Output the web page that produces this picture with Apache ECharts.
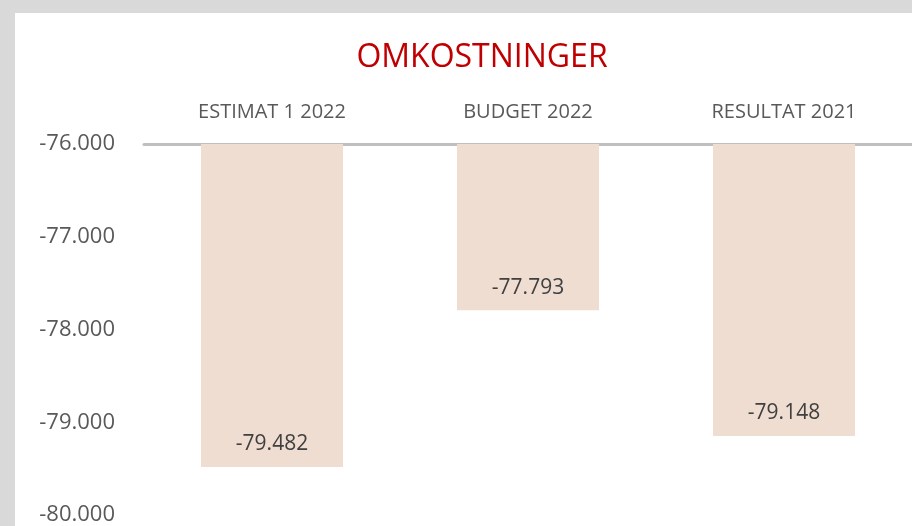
<!DOCTYPE html>
<html>
<head>
<meta charset="utf-8">
<script src="https://cdn.jsdelivr.net/npm/echarts@6/dist/echarts.min.js"></script>
<style>
  html, body { margin: 0; padding: 0; background: #d9d9d9; width: 912px; height: 526px; overflow: hidden; }
  #chart { position: absolute; left: 15px; top: 13px; width: 897px; height: 513px; background: #fff; }
</style>
</head>
<body>
<div id="chart"></div>
<script>
  const categories = ['ESTIMAT 1 2022', 'BUDGET 2022', 'RESULTAT 2021']
  const values = [-79482, -77793, -79148]
  const axisMin = -80000
  const axisMax = -76000
  const axisStep = 1000

  // dansk tusindtalsformat: -79.482
  function fmt(v) {
    const s = Math.abs(Math.round(v)).toString().replace(/\B(?=(\d{3})+(?!\d))/g, '.')
    return (v < 0 ? '-' : '') + s
  }

  const chart = echarts.init(document.getElementById('chart'))
  chart.setOption({
    animation: false,
    textStyle: { fontFamily: 'Open Sans' },
    title: {
      text: 'OMKOSTNINGER',
      left: 462,
      textAlign: 'center',
      top: 24,
      textStyle: { fontSize: 32, fontWeight: 'normal', color: '#c00000', fontFamily: 'Open Sans' },
    },
    grid: { left: 129, right: 0, top: 131, bottom: 10 },
    xAxis: {
      type: 'category',
      position: 'top',
      data: categories,
      axisLine: { onZero: false, lineStyle: { color: '#bfbfbf', width: 3 } },
      axisTick: { show: false },
      axisLabel: { color: '#595959', fontSize: 20, margin: 22 },
    },
    yAxis: {
      type: 'value',
      min: axisMin,
      max: axisMax,
      interval: axisStep,
      splitLine: { show: false },
      axisLine: { show: false },
      axisTick: { show: false },
      axisLabel: { color: '#595959', fontSize: 22, margin: 29, formatter: fmt },
    },
    series: [{
      type: 'bar',
      data: values,
      barWidth: 142,
      itemStyle: { color: '#efddd2' },
      label: {
        show: true,
        position: 'insideBottom',
        distance: 12,
        color: '#404040',
        fontSize: 21,
        formatter: (p) => fmt(p.value),
      },
    }],
  })
</script>
</body>
</html>
